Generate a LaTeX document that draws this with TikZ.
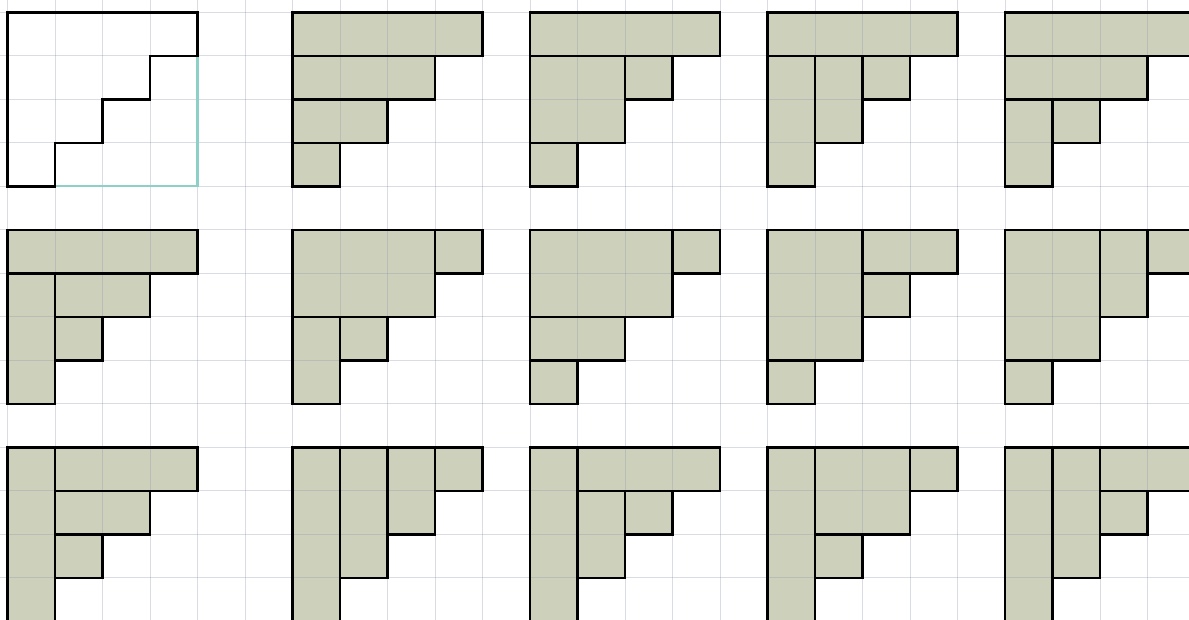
\documentclass[tikz,border=0pt]{standalone}
\definecolor{tilefill}{RGB}{205,209,188}
\definecolor{gridcol}{RGB}{140,148,170}
\definecolor{tealline}{RGB}{140,208,200}
\tikzset{
  gridline/.style={draw=gridcol, draw opacity=0.32, line width=1pt},
  piecefill/.style={fill=tilefill, draw=none},
  pieceedge/.style={draw=black, line width=2.6pt, line join=miter},
  openedge/.style={draw=tealline, line width=2.2pt},
}
\newcommand\figtiles[3]{%
  \begin{scope}[shift={(#1,#2)}]
    \foreach \a/\b/\c/\d in {#3} {\path[piecefill] (\a,\b) rectangle (\c,\d);}
  \end{scope}}
\newcommand\figedges[3]{%
  \begin{scope}[shift={(#1,#2)}]
    \foreach \a/\b/\c/\d in {#3} {\path[pieceedge] (\a,\b) rectangle (\c,\d);}
  \end{scope}}
\newcommand\allfigs[1]{%
  #1{6}{0}{0/0/4/1, 0/1/3/2, 0/2/2/3, 0/3/1/4}%
  #1{11}{0}{0/0/4/1, 0/1/2/3, 2/1/3/2, 0/3/1/4}%
  #1{16}{0}{0/0/4/1, 0/1/1/4, 1/1/2/3, 2/1/3/2}%
  #1{21}{0}{0/0/4/1, 0/1/3/2, 0/2/1/4, 1/2/2/3}%
  #1{0}{5}{0/0/4/1, 0/1/1/4, 1/1/3/2, 1/2/2/3}%
  #1{6}{5}{0/0/3/2, 3/0/4/1, 0/2/1/4, 1/2/2/3}%
  #1{11}{5}{0/0/3/2, 3/0/4/1, 0/2/2/3, 0/3/1/4}%
  #1{16}{5}{0/0/2/3, 2/0/4/1, 2/1/3/2, 0/3/1/4}%
  #1{21}{5}{0/0/2/3, 2/0/3/2, 3/0/4/1, 0/3/1/4}%
  #1{0}{10}{0/0/1/4, 1/0/4/1, 1/1/3/2, 1/2/2/3}%
  #1{6}{10}{0/0/1/4, 1/0/2/3, 2/0/3/2, 3/0/4/1}%
  #1{11}{10}{0/0/1/4, 1/0/4/1, 1/1/2/3, 2/1/3/2}%
  #1{16}{10}{0/0/1/4, 1/0/3/2, 3/0/4/1, 1/2/2/3}%
  #1{21}{10}{0/0/1/4, 1/0/2/3, 2/0/4/1, 2/1/3/2}%
}
\begin{document}
\begin{tikzpicture}[x=47.5pt, y=-43.5pt]
  \useasboundingbox (-0.1579,-0.2828) rectangle (24.874,13.970);
  \clip (-0.1579,-0.2828) rectangle (24.874,13.970);
  \fill[white] (-0.1579,-0.2828) rectangle (24.874,13.970);
  % fills
  \allfigs{\figtiles}
  % grid
  \foreach \i in {-1,...,25} {\path[gridline] (\i,-1) -- (\i,15);}
  \foreach \j in {-1,...,15} {\path[gridline] (-1,\j) -- (26,\j);}
  % first figure: outline only
  \path[openedge] (4,1) -- (4,4) -- (1,4);
  \path[pieceedge] (0,0) -- (4,0) -- (4,1) -- (3,1) -- (3,2) -- (2,2) -- (2,3) -- (1,3) -- (1,4) -- (0,4) -- cycle;
  % edges
  \allfigs{\figedges}
\end{tikzpicture}
\end{document}
